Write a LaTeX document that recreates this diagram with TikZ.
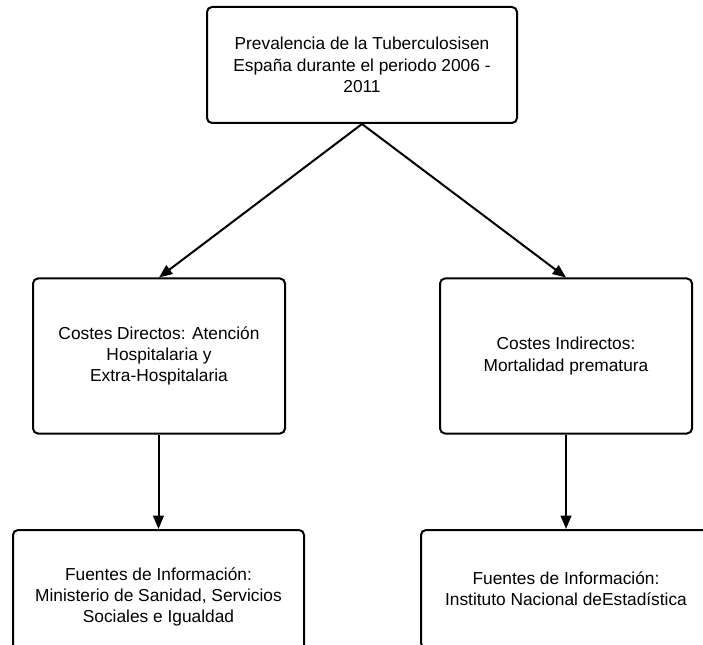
\documentclass[tikz,border=0pt]{standalone}
\usepackage{fontspec}
\setmainfont{Liberation Sans}
\usetikzlibrary{arrows.meta}
\begin{document}
\begin{tikzpicture}[x=0.75pt,y=-0.75pt,
        caja/.style={draw,line width=1.5pt,rounded corners=3.75pt,align=center,inner sep=0pt,
                     font=\fontsize{13}{16}\selectfont},
        flecha/.style={line width=1.5pt,-{Triangle[length=10pt,width=8pt]}}]
        \useasboundingbox (0,0) rectangle (703,645);
        \clip (0,0) rectangle (703,645);

        \node[caja,minimum width=232.5pt,minimum height=87pt] (prev) at (362,65)
            {Prevalencia de la Tuberculosisen\\España durante el periodo 2006 -\\2011}; % Arriba
        \node[caja,minimum width=189pt,minimum height=116.25pt] (directos) at (159,356)
            {Costes Directos: Atención\\Hospitalaria y\\Extra-Hospitalaria}; % Izquierda
        \node[caja,minimum width=189pt,minimum height=116.25pt] (indirectos) at (566,356)
            {Costes Indirectos:\\Mortalidad prematura}; % Derecha
        \node[caja,minimum width=218.25pt,minimum height=100.5pt] (ministerio) at (158.5,597)
            {Fuentes de Información:\\Ministerio de Sanidad, Servicios\\Sociales e Igualdad}; % Abajo izquierda
        \node[caja,minimum width=217.5pt,minimum height=88.5pt] (ine) at (566,589)
            {Fuentes de Información:\\Instituto Nacional deEstadística}; % Abajo derecha

        \draw[flecha] (prev.south) -- (directos.north);
        \draw[flecha] (prev.south) -- (indirectos.north);
        \draw[flecha] (directos.south -| ministerio.north) -- (ministerio.north);
        \draw[flecha] (indirectos.south) -- (ine.north);
    \end{tikzpicture}
\end{document}
